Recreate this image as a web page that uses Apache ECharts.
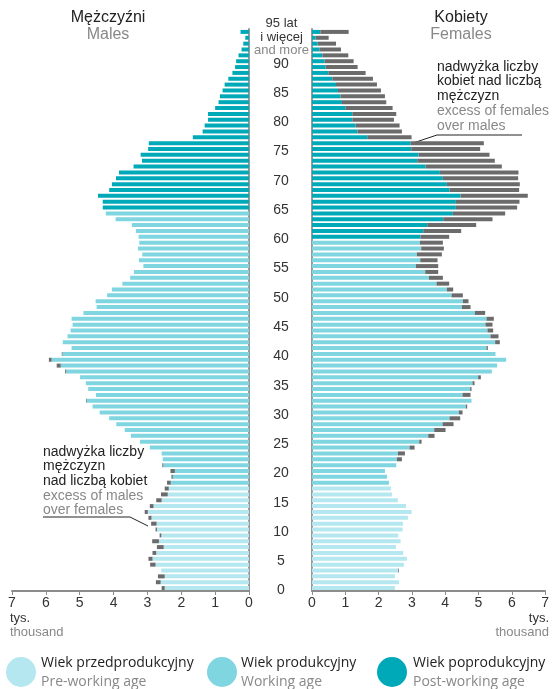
<!DOCTYPE html>
<html>
<head>
<meta charset="utf-8">
<script src="https://cdn.jsdelivr.net/npm/echarts@6/dist/echarts.min.js"></script>
<style>
  html, body { margin: 0; padding: 0; background: #fff; }
  #chart { width: 552px; height: 689px; }
</style>
</head>
<body>
<div id="chart"></div>
<script>
// age groups 0..95 (95 = 95 lat i więcej)
const ages = [];
for (let a = 0; a <= 95; a++) ages.push(String(a));

// thousands, index = age
const males = [
  2.58, 2.75, 2.69, 2.59, 2.92, 2.97, 2.85, 2.72, 2.86, 2.64,
  2.76, 2.89, 2.97, 3.08, 2.93, 2.74, 2.60, 2.49, 2.42, 2.29,
  2.32, 2.56, 2.55, 2.58, 2.93, 3.22, 3.49, 3.67, 3.92, 4.13,
  4.41, 4.62, 4.81, 4.52, 4.75, 4.82, 4.99, 5.43, 5.68, 5.91,
  5.53, 5.24, 5.50, 5.36, 5.27, 5.21, 5.24, 4.89, 4.50, 4.53,
  4.19, 4.05, 3.74, 3.51, 3.40, 3.12, 3.25, 3.15, 3.28, 3.24,
  3.26, 3.34, 3.46, 3.94, 4.23, 4.32, 4.32, 4.46, 4.13, 4.05,
  3.93, 3.84, 3.41, 3.16, 3.20, 2.98, 2.96, 1.66, 1.37, 1.31,
  1.21, 1.21, 1.00, 0.90, 0.86, 0.78, 0.72, 0.61, 0.49, 0.41,
  0.38, 0.31, 0.22, 0.17, 0.11, 0.25
];
const females = [
  2.49, 2.61, 2.49, 2.61, 2.76, 2.85, 2.74, 2.52, 2.66, 2.59,
  2.72, 2.73, 2.88, 2.99, 2.82, 2.58, 2.40, 2.37, 2.31, 2.25,
  2.19, 2.53, 2.70, 2.79, 3.08, 3.29, 3.68, 4.01, 4.25, 4.45,
  4.52, 4.66, 4.79, 4.76, 4.79, 4.88, 5.07, 5.40, 5.56, 5.83,
  5.51, 5.28, 5.64, 5.60, 5.44, 5.42, 5.46, 5.20, 4.76, 4.70,
  4.53, 4.24, 4.12, 3.93, 3.79, 3.79, 3.77, 3.90, 3.96, 3.93,
  4.12, 4.48, 4.93, 5.42, 5.80, 6.16, 6.23, 6.48, 6.22, 6.24,
  6.19, 6.20, 5.70, 5.49, 5.33, 5.05, 5.16, 2.99, 2.70, 2.63,
  2.46, 2.53, 2.42, 2.23, 2.19, 2.07, 1.95, 1.83, 1.61, 1.37,
  1.25, 1.09, 0.87, 0.72, 0.50, 1.10
];
const xTicks = [0, 1, 2, 3, 4, 5, 6, 7];

const C_PRE = "#b4e7ef";
const C_WORK = "#7fd5e0";
const C_POST = "#00a9b8";
const C_EXCESS = "#6b6b6b";

// working age ends at 64 for men, 59 for women
function groupColor(age, lastWorking) {
  if (age <= 17) return C_PRE;
  if (age <= lastWorking) return C_WORK;
  return C_POST;
}

const maleBase = males.map((m, i) => ({
  value: Math.min(m, females[i]),
  itemStyle: { color: groupColor(i, 64) },
}));
const maleExcess = males.map((m, i) => Math.max(m - females[i], 0));
const femaleBase = females.map((f, i) => ({
  value: Math.min(f, males[i]),
  itemStyle: { color: groupColor(i, 59) },
}));
const femaleExcess = females.map((f, i) => Math.max(f - males[i], 0));

const chart = echarts.init(document.getElementById("chart"));

const valueAxis = {
  type: "value",
  min: 0,
  max: 7,
  interval: 1,
  splitLine: { show: false },
  axisLine: { show: true, lineStyle: { color: "#8c8c8c", width: 2 } },
  axisTick: { show: true, length: 4, lineStyle: { color: "#8c8c8c", width: 1 } },
  axisLabel: {
    color: "#333",
    fontSize: 14,
    fontFamily: "Liberation Sans",
    margin: 5,
    formatter: (v) => (xTicks.includes(v) ? String(v) : ""),
  },
};

const T = "Liberation Sans";
const txt = (x, y, text, color, size, align) => ({
  type: "text",
  x: x,
  y: y,
  style: {
    text: text,
    fill: color,
    font: size + "px " + T,
    textAlign: align || "left",
    textVerticalAlign: "middle",
  },
});

const option = {
  animation: false,
  grid: [
    { left: 12, top: 29, width: 237, height: 562 },
    { left: 312, top: 29, width: 234.5, height: 562 },
  ],
  xAxis: [
    Object.assign({ gridIndex: 0, inverse: true }, valueAxis),
    Object.assign({ gridIndex: 1 }, valueAxis),
  ],
  yAxis: [
    {
      type: "category",
      gridIndex: 0,
      data: ages,
      position: "right",
      axisLine: { show: true, lineStyle: { color: "#999", width: 2 } },
      axisTick: { show: false },
      axisLabel: { show: false },
    },
    {
      type: "category",
      gridIndex: 1,
      data: ages,
      position: "left",
      axisLine: { show: true, lineStyle: { color: "#999", width: 2 } },
      axisTick: { show: false },
      axisLabel: {
        interval: (i) => i % 5 === 0 && i < 95,
        margin: 31,
        align: "center",
        color: "#333",
        fontSize: 14,
        fontFamily: T,
        padding: [5, 0, 0, 0],
        formatter: (v) => "{n|" + v + "}",
        rich: {
          n: { color: "#333", fontSize: 14, fontFamily: T },
        },
      },
    },
  ],
  series: [
    {
      type: "bar", xAxisIndex: 0, yAxisIndex: 0, stack: "m",
      barWidth: 4, silent: true, data: maleBase,
    },
    {
      type: "bar", xAxisIndex: 0, yAxisIndex: 0, stack: "m",
      barWidth: 4, silent: true, itemStyle: { color: C_EXCESS }, data: maleExcess,
    },
    {
      type: "bar", xAxisIndex: 1, yAxisIndex: 1, stack: "f",
      barWidth: 4, silent: true, data: femaleBase,
    },
    {
      type: "bar", xAxisIndex: 1, yAxisIndex: 1, stack: "f",
      barWidth: 4, silent: true, itemStyle: { color: C_EXCESS }, data: femaleExcess,
    },
  ],
  graphic: [
    // top age group label
    txt(281.5, 23, "95 lat", "#333", 13, "center"),
    txt(281.5, 37, "i więcej", "#333", 13, "center"),
    txt(281.5, 50, "and more", "#888", 13, "center"),

    txt(108, 18, "Mężczyźni", "#222", 16, "center"),
    txt(108, 35, "Males", "#888", 16, "center"),
    txt(461, 18, "Kobiety", "#222", 16, "center"),
    txt(461, 35, "Females", "#888", 16, "center"),

    txt(437, 67, "nadwyżka liczby", "#222", 14),
    txt(437, 81, "kobiet nad liczbą", "#222", 14),
    txt(437, 96, "mężczyzn", "#222", 14),
    txt(437, 111, "excess of females", "#888", 14),
    txt(437, 126, "over males", "#888", 14),
    {
      type: "polyline",
      shape: { points: [[413, 143], [437, 135], [522, 135]] },
      style: { stroke: "#222", lineWidth: 1, fill: null },
    },

    txt(43, 452, "nadwyżka liczby", "#222", 14),
    txt(43, 466, "mężczyzn", "#222", 14),
    txt(43, 481, "nad liczbą kobiet", "#222", 14),
    txt(43, 496, "excess of males", "#888", 14),
    txt(43, 510, "over females", "#888", 14),
    {
      type: "polyline",
      shape: { points: [[43, 517], [130, 517], [148, 526]] },
      style: { stroke: "#222", lineWidth: 1, fill: null },
    },

    txt(10, 618, "tys.", "#333", 13),
    txt(10, 632, "thousand", "#888", 13),
    txt(549, 618, "tys.", "#333", 13, "right"),
    txt(549, 632, "thousand", "#888", 13, "right"),

    { type: "circle", shape: { cx: 21, cy: 672, r: 15 }, style: { fill: C_PRE } },
    { type: "circle", shape: { cx: 222, cy: 672, r: 15 }, style: { fill: C_WORK } },
    { type: "circle", shape: { cx: 392, cy: 672, r: 15 }, style: { fill: C_POST } },
    txt(41, 663, "Wiek przedprodukcyjny", "#222", 14, "left"),
    txt(41, 682, "Pre-working age", "#888", 14, "left"),
    txt(241, 663, "Wiek produkcyjny", "#222", 14, "left"),
    txt(241, 682, "Working age", "#888", 14, "left"),
    txt(413, 663, "Wiek poprodukcyjny", "#222", 14, "left"),
    txt(413, 682, "Post-working age", "#888", 14, "left"),
  ],
};

// legend texts in a rounder face than the rest
option.graphic.slice(-6).forEach((g) => {
  g.style.font = "14px 'Open Sans'";
});

chart.setOption(option);
</script>
</body>
</html>
